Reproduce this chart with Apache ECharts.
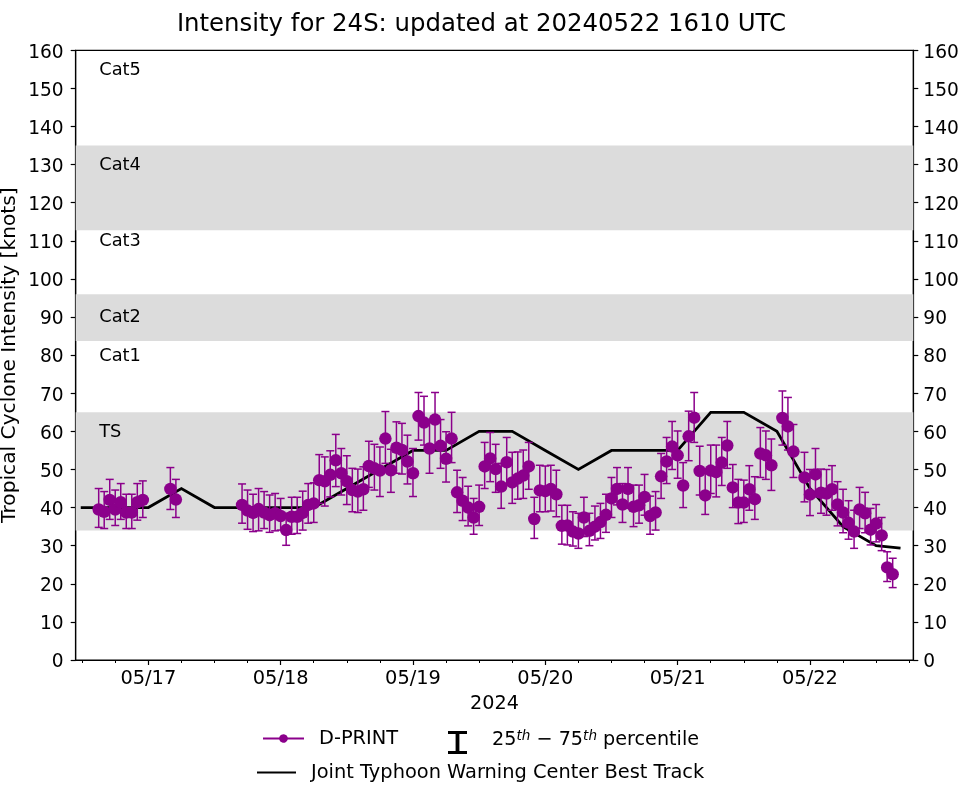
<!DOCTYPE html>
<html>
<head>
<meta charset="UTF-8">
<title>Intensity for 24S</title>
<script src="https://cdn.jsdelivr.net/npm/echarts@6/dist/echarts.min.js"></script>
<style>
  * { margin: 0; padding: 0; }
  body { background: #fff; }
  #chart { width: 962px; height: 785px; }
</style>
</head>
<body>
<div id="chart"></div>
<script>
// x values are hours since 05/17 00 UTC
var hours = [-9,-8,-7,-6,-5,-4,-3,-2,-1,4,5,
  17,18,19,20,21,22,23,24,25,26,27,28,29,30,31,32,33,34,35,36,37,38,39,40,
  41,42,43,44,45,46,47,48,49,50,51,52,53,54,55,56,57,58,59,60,61,62,63,64,
  65,66,67,68,69,70,71,72,73,74,75,76,77,78,79,80,81,82,83,84,85,86,87,88,
  89,90,91,92,93,94,95,96,97,98,99,100,101,102,103,104,105,106,107,108,109,
  110,111,112,113,115,116,117,119,120,121,122,123,124,125,126,127,128,129,
  130,131,132,133,134,135];
var dprint = [39.5,38.9,42.0,39.5,41.4,38.7,38.7,41.4,42.0,44.9,42.1,
  40.7,39.2,38.6,39.6,38.7,38.0,38.5,37.8,34.1,37.6,37.6,38.6,40.7,41.1,47.2,46.9,48.6,52.4,49.0,46.9,44.6,44.2,44.8,50.9,
  50.3,49.7,58.1,49.8,55.7,55.1,52.1,49.0,64.0,62.3,55.5,63.1,56.2,52.8,58.1,44.0,41.8,40.0,37.4,40.2,50.8,52.9,50.1,45.5,
  51.9,46.6,47.6,48.4,50.8,37.0,44.5,44.3,44.9,43.5,35.2,35.3,33.7,33.2,37.4,33.9,35.0,36.2,38.1,42.4,44.9,40.8,44.9,40.2,
  40.6,42.8,37.8,38.7,48.2,52.1,56.0,53.7,45.8,58.7,63.6,49.6,43.2,49.7,49.3,51.8,56.3,45.3,41.3,41.3,44.8,
  42.2,54.2,53.7,51.1,63.5,61.3,54.7,47.9,43.4,48.7,43.9,43.7,44.8,40.8,38.7,36.0,33.7,39.5,
  38.5,34.2,35.8,32.7,24.3,22.5];
var p75 = [45.0,44.2,47.4,44.6,46.3,43.5,43.5,46.3,47.0,50.5,47.4,
  46.2,44.6,43.5,45.0,44.2,43.3,43.7,42.4,38.5,42.7,42.7,44.3,46.3,46.5,53.9,53.3,54.9,59.2,55.5,53.6,50.3,50.1,50.7,57.4,
  56.6,55.9,65.2,55.3,62.5,62.1,59.0,55.5,70.2,69.2,62.5,70.2,63.1,59.9,65.0,49.8,47.9,45.6,42.4,45.9,57.1,59.7,56.6,51.6,
  58.4,54.5,54.6,55.1,57.1,42.7,51.1,50.9,51.1,49.8,40.6,40.6,38.9,38.5,42.7,38.5,40.4,41.1,43.5,47.9,50.5,46.3,50.5,45.9,
  45.9,48.7,43.0,44.2,54.2,58.4,62.6,60.1,51.8,65.3,70.2,56.1,49.2,56.4,56.4,58.4,62.6,51.3,47.4,47.2,51.0,
  48.1,61.0,60.1,58.0,70.6,68.9,61.8,54.5,50.0,55.5,50.1,50.0,51.0,46.8,44.8,41.8,39.3,45.3,
  44.0,39.8,40.8,37.4,28.4,26.7];
var p25 = [34.8,34.5,36.9,35.3,36.9,34.5,34.5,36.7,37.4,39.5,37.4,
  35.9,34.3,33.7,33.9,34.5,33.5,33.9,34.1,30.1,33.0,33.2,34.1,35.9,36.1,41.1,40.4,42.8,45.5,43.3,40.8,38.9,38.7,39.3,45.3,
  44.6,42.9,51.6,44.0,49.0,48.8,46.2,42.9,57.7,56.4,49.0,56.4,50.3,46.7,51.8,38.7,36.6,35.2,33.0,35.3,45.0,46.8,44.0,39.8,
  45.9,41.1,42.2,42.4,44.8,31.9,38.9,38.9,39.1,37.6,30.4,30.2,29.9,29.3,32.4,30.0,31.5,31.9,33.5,37.4,40.7,36.1,39.8,35.0,
  35.9,38.0,33.0,34.1,42.4,46.3,50.0,47.7,40.0,52.3,57.1,43.3,38.2,43.7,42.8,45.8,50.3,40.0,35.8,36.1,39.3,
  36.9,47.9,47.4,44.5,56.4,55.1,47.9,41.5,37.9,42.8,38.5,38.0,39.3,35.2,33.4,31.7,29.3,34.5,
  33.4,30.2,31.0,28.7,20.6,19.0];

var trackHours = [-12,-6,0,6,12,18,24,30,36,42,48,54,60,66,72,78,84,90,96,102,108,114,120,126,132,136.17];
var trackKnots = [40,40,40,45,40,40,40,40,45,50,55,55,60,60,55,50,55,55,55,65,65,60,45,35,30,29.4];

var bands = [[34, 65], [83.7, 96], [112.8, 135]];
var catNames = ['Cat5', 'Cat4', 'Cat3', 'Cat2', 'Cat1', 'TS'];
var catKnots = [154.8, 129.8, 109.8, 89.8, 79.8, 59.8];
var catHour = -8.9;

var dayTicks = [0, 24, 48, 72, 96, 120];
var dayLabels = ['05/17', '05/18', '05/19', '05/20', '05/21', '05/22'];
var sixHourTicks = [-12,-6,0,6,12,18,24,30,36,42,48,54,60,66,72,78,84,90,96,102,108,114,120,126,132,138];

var dprintName = 'D-PRINT';
var rangeName = '25-75 percentile';
var trackName = 'Joint Typhoon Warning Center Best Track';

var font = 'DejaVu Sans';
var purple = '#8b008b';
var xMin = -13.17, xMax = 138.74;

var myChart = echarts.init(document.getElementById('chart'));

function yAxisOf(pos, margin) {
  return {
    type: 'value', position: pos, min: 0, max: 160, interval: 10,
    axisLine: { show: true, onZero: false, lineStyle: { color: '#000', width: 1.2 } },
    axisTick: { show: true, length: 5, lineStyle: { color: '#000', width: 1.2 } },
    // top aligned with a short line box: sits the digits a bit below the tick, as in the picture
    axisLabel: { color: '#000', fontFamily: font, fontSize: 18.6, margin: margin, verticalAlign: 'top', lineHeight: 5 },
    splitLine: { show: false }
  };
}

var left = yAxisOf('left', 12);
left.name = 'Tropical Cyclone Intensity [knots]';
left.nameLocation = 'middle';
left.nameGap = 56;
left.nameMoveOverlap = false;
left.nameTextStyle = { color: '#000', fontFamily: font, fontSize: 20.2 };

var option = {
  animation: false,
  backgroundColor: '#fff',
  title: {
    text: 'Intensity for 24S: updated at 20240522 1610 UTC',
    left: 476.5, top: 8, textAlign: 'center',
    textStyle: { color: '#000', fontFamily: font, fontSize: 24.4, fontWeight: 'normal' }
  },
  grid: {
    left: 75.7, right: 48.7, top: 50.3, bottom: 125,
    outerBoundsMode: 'none',
    show: true, borderColor: '#000', borderWidth: 1.2, backgroundColor: 'transparent'
  },
  legend: [
    {
      data: [{ name: dprintName, icon: 'path://M0 3.5H16.2A4.5 4.5 0 0 1 24.8 3.5H41V5.5H24.8A4.5 4.5 0 0 1 16.2 5.5H0Z' }],
      left: 263, top: 729, padding: 0, itemWidth: 41, itemHeight: 9, itemGap: 0, selectedMode: false,
      textStyle: { color: '#000', fontFamily: font, fontSize: 19.4, padding: [0, 0, 0, 10] }
    },
    {
      data: [{ name: rangeName, icon: 'path://M0 0H20V3H12V21H20V24H0V21H8V3H0Z' }],
      left: 448, top: 729, padding: 0, itemWidth: 19, itemHeight: 24, itemGap: 0, selectedMode: false,
      formatter: function () { return '{a|25}{s|th}{a| \u2212 75}{s|th}{a| percentile}'; },
      textStyle: {
        color: '#000', fontFamily: font, fontSize: 19.2, padding: [0, 0, 5, 20],
        rich: {
          a: { color: '#000', fontFamily: font, fontSize: 19.2 },
          s: { color: '#000', fontFamily: font, fontSize: 13.6, fontStyle: 'italic', padding: [0, 0, 8, 0] }
        }
      }
    },
    {
      data: [{ name: trackName, icon: 'rect' }],
      left: 257, top: 763, padding: 0, itemWidth: 39, itemHeight: 2, itemGap: 0, selectedMode: false,
      textStyle: { color: '#000', fontFamily: font, fontSize: 19.4, padding: [0, 0, 0, 10] }
    }
  ],
  xAxis: [
    {
      type: 'value', position: 'bottom', min: xMin, max: xMax,
      name: '2024', nameLocation: 'middle', nameGap: 35,
      nameTextStyle: { color: '#000', fontFamily: font, fontSize: 19.2 },
      axisLine: { show: true, onZero: false, lineStyle: { color: '#000', width: 1.2 } },
      axisTick: { show: true, length: 5, customValues: dayTicks, lineStyle: { color: '#000', width: 1.2 } },
      axisLabel: {
        color: '#000', fontFamily: font, fontSize: 19.4, margin: 9, hideOverlap: false,
        customValues: dayTicks,
        formatter: function (v) { return dayLabels[dayTicks.indexOf(v)]; }
      },
      splitLine: { show: false }
    },
    {
      type: 'value', position: 'bottom', min: xMin, max: xMax,
      axisLine: { show: false, onZero: false },
      axisTick: { show: true, length: 3, customValues: sixHourTicks, lineStyle: { color: '#000', width: 1 } },
      axisLabel: { show: false },
      splitLine: { show: false }
    }
  ],
  yAxis: [left, yAxisOf('right', 10)],
  series: [
    {
      name: 'bands', type: 'line', data: [], z: 1, silent: true,
      markArea: {
        silent: true,
        itemStyle: { color: '#dcdcdc' },
        data: bands.map(function (b) { return [{ yAxis: b[0] }, { yAxis: b[1] }]; })
      }
    },
    {
      name: 'cats', type: 'scatter', z: 2, silent: true, symbolSize: 0,
      itemStyle: { opacity: 1 },
      data: catNames.map(function (n, i) { return { name: n, value: [catHour, catKnots[i]] }; }),
      label: {
        show: true, position: 'right', distance: 0, formatter: '{b}',
        color: '#000', fontFamily: font, fontSize: 17.8
      }
    },
    {
      name: trackName, type: 'line', z: 3, symbol: 'none', silent: true,
      lineStyle: { color: '#000', width: 2.8, join: 'miter', cap: 'square' },
      itemStyle: { color: '#000' },
      data: trackHours.map(function (h, i) { return [h, trackKnots[i]]; })
    },
    {
      name: rangeName, type: 'custom', z: 4, silent: true,
      itemStyle: { color: '#000' },
      data: hours.map(function (h, i) { return [h, p25[i], p75[i]]; }),
      renderItem: function (params, api) {
        var lo = api.coord([api.value(0), api.value(1)]);
        var hi = api.coord([api.value(0), api.value(2)]);
        var st = { stroke: purple, lineWidth: 1.5 };
        return {
          type: 'group',
          children: [
            { type: 'line', shape: { x1: lo[0], y1: lo[1], x2: hi[0], y2: hi[1] }, style: st },
            { type: 'line', shape: { x1: lo[0] - 4, y1: lo[1], x2: lo[0] + 4, y2: lo[1] }, style: st },
            { type: 'line', shape: { x1: hi[0] - 4, y1: hi[1], x2: hi[0] + 4, y2: hi[1] }, style: st }
          ]
        };
      }
    },
    {
      name: dprintName, type: 'scatter', z: 5, silent: true, symbolSize: 12.5,
      itemStyle: { color: purple, opacity: 1 },
      data: hours.map(function (h, i) { return [h, dprint[i]]; })
    }
  ]
};

myChart.setOption(option);
</script>
</body>
</html>
